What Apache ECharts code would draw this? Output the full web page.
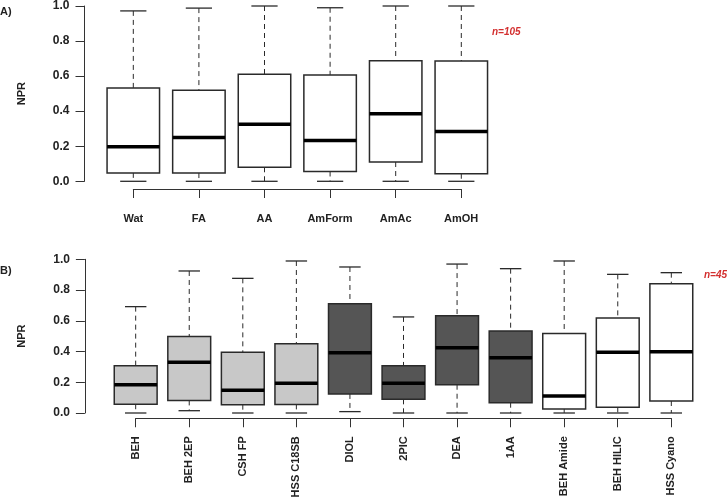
<!DOCTYPE html>
<html><head><meta charset="utf-8">
<script src="https://cdn.jsdelivr.net/npm/echarts@6/dist/echarts.min.js"></script>
<style>html,body{margin:0;padding:0;background:#fff}#c{width:727px;height:497px}</style>
</head><body><div id="c"></div>
<script>
// Panel A data
const catsA = ['Wat','FA','AA','AmForm','AmAc','AmOH'];
const minA = [0,0,0,0,0,0];
const q1A  = [0.048,0.047,0.08,0.056,0.11,0.043];
const medA = [0.197,0.25,0.325,0.233,0.385,0.284];
const q3A  = [0.532,0.52,0.61,0.607,0.688,0.686];
const maxA = [0.972,0.988,1.0,0.99,1.0,1.0];
const groupA = ['white','white','white','white','white','white'];

// Panel B data
const catsB = ['BEH','BEH 2EP','CSH FP','HSS C18SB','DIOL','2PIC','DEA','1AA','BEH Amide','BEH HILIC','HSS Cyano'];
const minB = [0,0.015,0,0,0.009,0,0,0,0,0,0];
const q1B  = [0.057,0.082,0.054,0.056,0.124,0.089,0.184,0.067,0.026,0.037,0.078];
const medB = [0.184,0.33,0.148,0.193,0.392,0.193,0.425,0.36,0.11,0.395,0.399];
const q3B  = [0.308,0.497,0.395,0.451,0.711,0.308,0.633,0.534,0.518,0.618,0.841];
const maxB = [0.692,0.924,0.876,0.989,0.95,0.625,0.969,0.939,0.989,0.902,0.913];
const groupB = ['light','light','light','light','dark','dark','dark','dark','white','white','white'];

const yTicks = [0,0.2,0.4,0.6,0.8,1.0];
const nA = 'n=105', nB = 'n=45';

const fillMap = {white:'#ffffff', light:'#c8c8c8', dark:'#555555'};
const FONT = '"Liberation Sans", Arial, sans-serif';

function rows(mn,q1,md,q3,mx){ return mn.map((v,i)=>[i,v,q1[i],md[i],q3[i],mx[i]]); }

function boxRenderer(groups){
  return function(params, api){
    const i = api.value(0);
    const x = api.coord([i,0])[0];
    const bw = api.size([1,0])[0]*0.8;
    const Y = v => api.coord([i,v])[1];
    const ymin=Y(api.value(1)), yq1=Y(api.value(2)), ymed=Y(api.value(3)), yq3=Y(api.value(4)), ymax=Y(api.value(5));
    const cap = bw/2;
    const stroke = '#2a2a2a';
    return {type:'group', children:[
      {type:'line', shape:{x1:x,y1:ymax,x2:x,y2:yq3}, style:{stroke:stroke,lineWidth:1,lineDash:[5,4]}},
      {type:'line', shape:{x1:x,y1:yq1,x2:x,y2:ymin}, style:{stroke:stroke,lineWidth:1,lineDash:[5,4]}},
      {type:'line', shape:{x1:x-cap/2,y1:ymax,x2:x+cap/2,y2:ymax}, style:{stroke:stroke,lineWidth:1.3}},
      {type:'line', shape:{x1:x-cap/2,y1:ymin,x2:x+cap/2,y2:ymin}, style:{stroke:stroke,lineWidth:1.3}},
      {type:'rect', shape:{x:x-bw/2,y:yq3,width:bw,height:yq1-yq3}, style:{fill:fillMap[groups[i]],stroke:stroke,lineWidth:1.5}},
      {type:'line', shape:{x1:x-bw/2,y1:ymed,x2:x+bw/2,y2:ymed}, style:{stroke:'#000',lineWidth:3.5}}
    ]};
  };
}

const yAxisCommon = (gi, off) => ({
  gridIndex: gi, type:'value', min:0, max:1, interval:0.2, offset: off,
  name:'NPR', nameLocation:'middle', nameRotate:90, nameGap:57,
  nameTextStyle:{fontFamily:FONT,fontWeight:'bold',fontSize:11,color:'#222'},
  axisLine:{show:true,lineStyle:{color:'#333',width:1}},
  axisTick:{show:true,length:9,lineStyle:{color:'#333'}},
  axisLabel:{fontFamily:FONT,fontWeight:'bold',fontSize:12,color:'#222',margin:15,
    formatter:v=>{ const t=yTicks.find(k=>Math.abs(k-v)<1e-9); return t===undefined?'':t.toFixed(1);} },
  splitLine:{show:false}
});

const chart = echarts.init(document.getElementById('c'), null, {renderer:'canvas'});
chart.setOption({
  animation:false,
  backgroundColor:'#fff',
  grid:[
    {left:100.5, top:4, width:393.6, height:177.3},
    {left:133.3, top:188, width:327.9, height:1},
    {left:108.9, top:259.3, width:589.2, height:153.7},
    {left:135.7, top:418, width:535.6, height:1}
  ],
  xAxis:[
    {gridIndex:0, type:'category', data:catsA, boundaryGap:true, show:false},
    {gridIndex:1, type:'category', data:catsA, boundaryGap:false, position:'bottom',
      axisLine:{show:true,lineStyle:{color:'#333',width:1}},
      axisTick:{show:true,length:9,alignWithLabel:true,lineStyle:{color:'#333'}},
      axisLabel:{fontFamily:FONT,fontWeight:'bold',fontSize:11,color:'#222',margin:24,interval:0}},
    {gridIndex:2, type:'category', data:catsB, boundaryGap:true, show:false},
    {gridIndex:3, type:'category', data:catsB, boundaryGap:false, position:'bottom',
      axisLine:{show:true,lineStyle:{color:'#333',width:1}},
      axisTick:{show:true,length:9,lineStyle:{color:'#333'}},
      axisLabel:{fontFamily:FONT,fontWeight:'bold',fontSize:11,color:'#222',margin:18,interval:0,rotate:90}}
  ],
  yAxis:[
    yAxisCommon(0,16),
    {gridIndex:1, type:'value', show:false},
    yAxisCommon(2,24),
    {gridIndex:3, type:'value', show:false}
  ],
  series:[
    {type:'custom', xAxisIndex:0, yAxisIndex:0, data:rows(minA,q1A,medA,q3A,maxA), renderItem:boxRenderer(groupA), encode:{x:0,y:[1,2,3,4,5]}},
    {type:'custom', xAxisIndex:2, yAxisIndex:2, data:rows(minB,q1B,medB,q3B,maxB), renderItem:boxRenderer(groupB), encode:{x:0,y:[1,2,3,4,5]}}
  ],
  graphic:[
    {type:'text', left:0, top:6, style:{text:'A)', font:'bold 11px '+FONT, fill:'#222'}},
    {type:'text', left:0, top:265, style:{text:'B)', font:'bold 11px '+FONT, fill:'#222'}},
    {type:'text', left:492, top:27, style:{text:nA, font:'italic bold 10px '+FONT, fill:'#d32f2f'}},
    {type:'text', left:704, top:270, style:{text:nB, font:'italic bold 10px '+FONT, fill:'#d32f2f'}}
  ]
});
</script></body></html>
